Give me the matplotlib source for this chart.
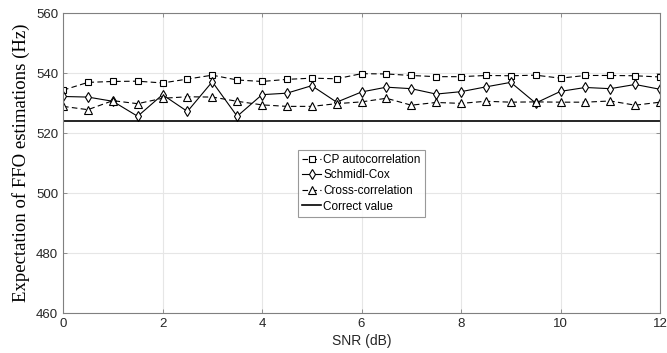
import numpy as np
import matplotlib.pyplot as plt

# SNR axis (dB) and mean FFO estimates (Hz) for each method
snr = np.arange(0, 12.5, 0.5)
cp_auto = [534.3, 536.9, 537.2, 537.3, 536.7, 538.0, 539.3, 537.7, 537.2, 537.9,
           538.3, 538.1, 539.8, 539.7, 539.2, 538.8, 538.8, 539.2, 539.1, 539.3,
           538.3, 539.2, 539.2, 539.1, 538.7]
schmidl_cox = [532.2, 532.0, 530.6, 525.6, 532.8, 527.2, 537.1, 525.6, 532.8, 533.3,
               535.8, 530.3, 533.7, 535.3, 534.8, 533.0, 533.8, 535.4, 536.9, 530.0,
               533.9, 535.2, 534.8, 536.2, 534.6]
cross_corr = [528.9, 527.8, 530.8, 529.8, 531.6, 532.1, 532.0, 530.6, 529.4, 528.9,
              528.9, 529.8, 530.4, 531.6, 529.3, 530.2, 529.9, 530.6, 530.3, 530.4,
              530.3, 530.3, 530.7, 529.3, 530.3]
correct_value = 524.0

plt.rcParams['font.family'] = ['Liberation Sans', 'DejaVu Sans']

fig = plt.figure(figsize=(6.67, 3.53), dpi=100)
ax = fig.add_axes([0.0945, 0.113, 0.895, 0.85])

mk = dict(markerfacecolor='white', markeredgecolor='black', markeredgewidth=0.8,
          color='black', linewidth=0.8)
ax.plot(snr, cp_auto, '--s', markersize=5, dashes=(5, 3),
        label='CP autocorrelation', **mk)
ax.plot(snr, schmidl_cox, '-d', markersize=5.5, label='Schmidl-Cox', **mk)
ax.plot(snr, cross_corr, '--^', markersize=5.5, dashes=(5, 3),
        label='Cross-correlation', **mk)
ax.axhline(correct_value, color='black', linewidth=1.2, label='Correct value')

ax.set_xlim(0, 12)
ax.set_ylim(460, 560)
ax.set_xticks(np.arange(0, 13, 2))
ax.set_yticks(np.arange(460, 561, 20))
ax.grid(True, color='#e6e6e6', linewidth=0.8)
ax.set_axisbelow(True)
for s in ax.spines.values():
    s.set_color('#808080')
    s.set_linewidth(0.8)
ax.tick_params(direction='in', top=True, right=True, length=3, width=0.6,
               color='#808080', labelcolor='#262626', labelsize=9.5)

ax.set_xlabel('SNR (dB)', fontsize=10, color='#262626', labelpad=3)
ax.set_ylabel('Expectation of FFO estimations (Hz)', fontsize=13.5,
              family=['Liberation Serif', 'DejaVu Serif'], labelpad=4)

leg = ax.legend(loc='center', bbox_to_anchor=(0.5, 0.433), fontsize=8.5,
                frameon=True, fancybox=False, edgecolor='#808080',
                handlelength=1.6, handletextpad=0.2, borderpad=0.35,
                labelspacing=0.3, borderaxespad=0)
leg.get_frame().set_linewidth(0.8)

fig.savefig('out.png', dpi=100)
